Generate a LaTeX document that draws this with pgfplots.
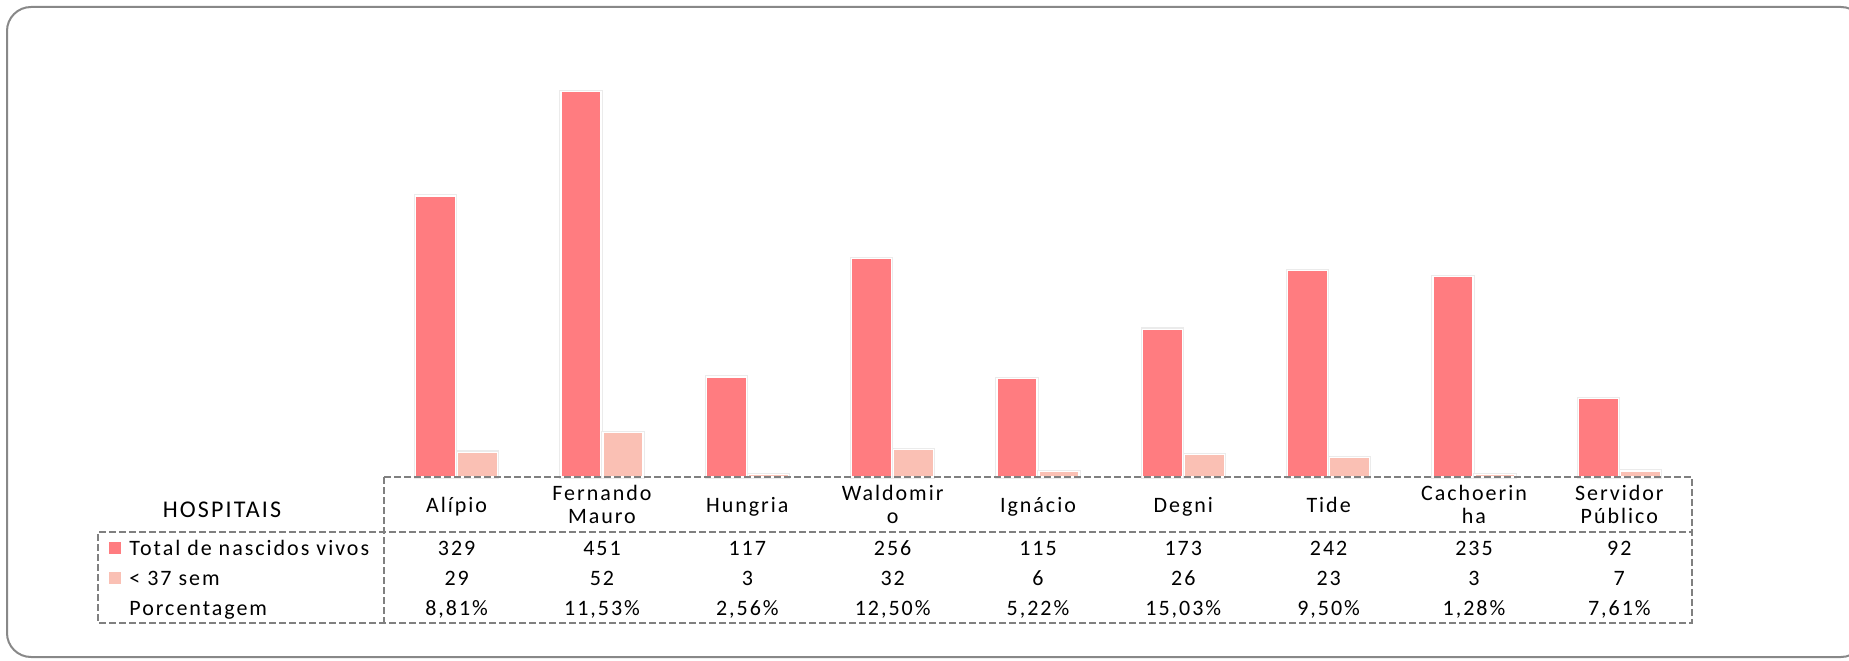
\documentclass[border=0pt]{standalone}
\usepackage{pgfplots}
\pgfplotsset{compat=1.18}
\usepackage{fontspec}
\setmainfont{Carlito}[LetterSpace=9]
\definecolor{totalc}{RGB}{255,124,128}
\definecolor{semc}{RGB}{250,192,180}
\definecolor{framec}{RGB}{136,136,136}
\definecolor{gridc}{RGB}{128,128,128}

\begin{document}
\begin{tikzpicture}[x=0.5pt,y=0.5pt,
  lbl/.style={anchor=base, inner sep=0pt, font=\fontsize{11}{13}\selectfont},
  tabline/.style={gridc, line width=0.75pt, dash pattern=on 3.5pt off 1.5pt}]
\useasboundingbox (0,0) rectangle (1849,660);
% outer frame (right side runs off the picture)
\draw[framec, line width=1pt, rounded corners=12pt] (7,3) rectangle (1865,653);

\begin{axis}[
  at={(192pt,91.5pt)}, anchor=south west,
  scale only axis, width=654pt, height=213.5pt,
  xmin=-0.5, xmax=8.5, ymin=0, ymax=500,
  hide axis, clip=false,
  ybar=1pt, bar width=20pt,
]
\addplot[fill=totalc, draw=white, line width=0.6pt,
  preaction={draw=black!8, line width=1.8pt}]
  coordinates {(0,329) (1,451) (2,117) (3,256) (4,115) (5,173) (6,242) (7,235) (8,92)};
\addplot[fill=semc, draw=white, line width=0.6pt,
  preaction={draw=black!8, line width=1.8pt}]
  coordinates {(0,29) (1,52) (2,3) (3,32) (4,6) (5,26) (6,23) (7,3) (8,7)};
\end{axis}

% data table
\draw[tabline] (384,183) -- (1692,183) -- (1692,37) -- (98,37) -- (98,128) -- (1692,128);
\draw[tabline] (384,183) -- (384,37);

\node[lbl, font=\fontsize{12}{14}\selectfont] at (222,143) {HOSPITAIS};
\fill[totalc] (109,106) rectangle (121,118);
\fill[semc] (109,76) rectangle (121,88);
\node[lbl, anchor=base west] at (129,105) {Total de nascidos vivos};
\node[lbl, anchor=base west] at (129,75) {< 37 sem};
\node[lbl, anchor=base west] at (129,45) {Porcentagem};

\foreach \i/\n in {0/Alípio, 2/Hungria, 4/Ignácio, 5/Degni, 6/Tide}{
  \pgfmathsetmacro{\cx}{384+(\i+0.5)*145.33}
  \node[lbl] at (\cx,148) {\n};
}
\foreach \i/\a/\b in {1/Fernando/Mauro, 3/Waldomir/o, 7/Cachoerin/ha, 8/Servidor/Público}{
  \pgfmathsetmacro{\cx}{384+(\i+0.5)*145.33}
  \node[lbl] at (\cx,159.3) {\a};
  \node[lbl] at (\cx,137) {\b};
}
\foreach \i/\t/\s/\p in {0/329/29/{8,81\%}, 1/451/52/{11,53\%}, 2/117/3/{2,56\%},
  3/256/32/{12,50\%}, 4/115/6/{5,22\%}, 5/173/26/{15,03\%}, 6/242/23/{9,50\%},
  7/235/3/{1,28\%}, 8/92/7/{7,61\%}}{
  \pgfmathsetmacro{\cx}{384+(\i+0.5)*145.33}
  \node[lbl] at (\cx,105) {\t};
  \node[lbl] at (\cx,75) {\s};
  \node[lbl] at (\cx,45) {\p};
}
\end{tikzpicture}
\end{document}
